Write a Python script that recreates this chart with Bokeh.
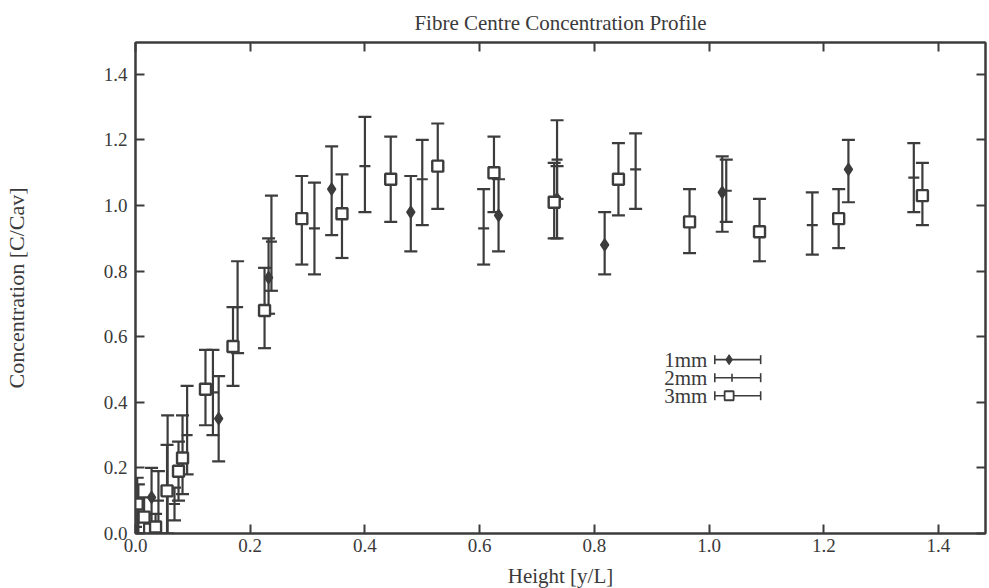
from bokeh.plotting import figure
from bokeh.models import (ColumnDataSource, Whisker, TeeHead, LinearAxis, Range1d,
                          FixedTicker, CustomJSTickFormatter, PrintfTickFormatter)
from bokeh.core.properties import value
from bokeh.embed import file_html
from bokeh.resources import INLINE

# ---------------- data ----------------
x_1mm  = [0.000, 0.028, 0.056, 0.145, 0.232, 0.342, 0.480, 0.633, 0.735, 0.818, 1.023, 1.243]
y_1mm  = [0.00, 0.11, 0.13, 0.35, 0.78, 1.05, 0.98, 0.97, 1.02, 0.88, 1.04, 1.11]
lo_1mm = [0.00, 0.03, 0.00, 0.22, 0.67, 0.91, 0.86, 0.86, 0.90, 0.79, 0.92, 1.01]
hi_1mm = [0.02, 0.20, 0.36, 0.48, 0.90, 1.18, 1.09, 1.08, 1.12, 0.98, 1.15, 1.20]

x_2mm  = [0.005, 0.040, 0.068, 0.090, 0.135, 0.178, 0.237, 0.312, 0.400, 0.500, 0.607, 0.735, 0.872, 1.030, 1.180, 1.357]
y_2mm  = [0.05, 0.10, 0.09, 0.30, 0.43, 0.69, 0.89, 0.93, 1.12, 1.08, 0.93, 1.14, 1.11, 1.045, 0.94, 1.085]
lo_2mm = [0.00, 0.00, 0.04, 0.18, 0.30, 0.55, 0.74, 0.79, 0.98, 0.94, 0.82, 1.02, 0.99, 0.95, 0.85, 0.98]
hi_2mm = [0.15, 0.19, 0.14, 0.45, 0.56, 0.83, 1.03, 1.07, 1.27, 1.20, 1.05, 1.26, 1.22, 1.14, 1.04, 1.19]

x_3mm  = [0.003, 0.015, 0.035, 0.055, 0.075, 0.082, 0.122, 0.170, 0.225, 0.290, 0.360, 0.445, 0.527,
          0.625, 0.730, 0.842, 0.966, 1.088, 1.226, 1.372]
y_3mm  = [0.09, 0.05, 0.02, 0.13, 0.19, 0.23, 0.44, 0.57, 0.68, 0.96, 0.975, 1.08, 1.12,
          1.10, 1.01, 1.08, 0.95, 0.92, 0.96, 1.03]
lo_3mm = [0.00, 0.00, 0.00, 0.00, 0.10, 0.12, 0.33, 0.45, 0.565, 0.82, 0.84, 0.95, 0.99,
          0.98, 0.90, 0.97, 0.855, 0.83, 0.87, 0.94]
hi_3mm = [0.17, 0.11, 0.06, 0.27, 0.28, 0.36, 0.56, 0.69, 0.81, 1.09, 1.095, 1.21, 1.25,
          1.21, 1.13, 1.19, 1.05, 1.02, 1.05, 1.13]

x_ticks = [0.0, 0.2, 0.4, 0.6, 0.8, 1.0, 1.2, 1.4]
y_ticks = [0.0, 0.2, 0.4, 0.6, 0.8, 1.0, 1.2, 1.4]

legend_labels = ["1mm", "2mm", "3mm"]
legend_y = [0.53, 0.475, 0.42]

# ---------------- style ----------------
INK = "#3c3c3c"
TXT = "#3a3a3a"
FONT = "Liberation Serif"

p = figure(width=989, height=588, output_backend="svg", toolbar_location=None,
           x_range=Range1d(0, 1.482), y_range=Range1d(0, 1.497),
           frame_width=850, frame_height=491,
           min_border_left=135, min_border_right=4, min_border_top=41, min_border_bottom=56,
           x_axis_location=None, y_axis_location=None,
           title="Fibre Centre Concentration Profile")
p.title.align = "center"
p.title.text_font = FONT
p.title.text_font_size = "21px"
p.title.text_font_style = "normal"
p.title.text_color = TXT
p.title.standoff = 16
p.title.offset = 0
p.grid.visible = False
p.outline_line_color = INK
p.outline_line_width = 2
p.background_fill_color = "white"
p.border_fill_color = "white"


def style_axis(ax, ticks, labels=True):
    ax.ticker = FixedTicker(ticks=ticks)
    ax.major_tick_in = 9
    ax.major_tick_out = 0
    ax.minor_tick_line_color = None
    ax.major_tick_line_color = INK
    ax.major_tick_line_width = 2
    ax.axis_line_color = INK
    ax.axis_line_width = 2
    ax.major_label_text_font = FONT
    ax.major_label_text_font_size = "19px"
    ax.major_label_text_color = TXT
    ax.axis_label_text_font = FONT
    ax.axis_label_text_font_style = "normal"
    ax.axis_label_text_color = TXT
    if labels:
        ax.formatter = PrintfTickFormatter(format="%.1f")
    else:
        ax.formatter = CustomJSTickFormatter(code="return ''")
        ax.major_label_standoff = 0


xb = LinearAxis(axis_label="Height [y/L]")
style_axis(xb, x_ticks)
xb.axis_label_text_font_size = "21px"
xb.major_label_standoff = 5
xb.axis_label_standoff = 9
p.add_layout(xb, "below")

yl = LinearAxis(axis_label="Concentration [C/Cav]")
style_axis(yl, y_ticks)
yl.axis_label_text_font_size = "22px"
yl.major_label_standoff = 8
yl.axis_label_standoff = 72
p.add_layout(yl, "left")

xt = LinearAxis()
style_axis(xt, x_ticks, labels=False)
p.add_layout(xt, "above")

yr = LinearAxis()
style_axis(yr, y_ticks, labels=False)
p.add_layout(yr, "right")


def series(xs, ys, lo, hi, kind):
    src = ColumnDataSource(dict(x=xs, y=ys, lo=lo, hi=hi))
    w = Whisker(base="x", lower="lo", upper="hi", source=src, dimension="height",
                line_color=INK, line_width=2.2,
                upper_head=TeeHead(size=13, line_color=INK, line_width=2.2),
                lower_head=TeeHead(size=13, line_color=INK, line_width=2.2))
    p.add_layout(w)
    if kind == "1mm":
        p.scatter("x", "y", source=src, marker="diamond", size=12,
                  fill_color=INK, line_color=INK, line_width=1.5)
    elif kind == "2mm":
        p.scatter("x", "y", source=src, marker="dash", size=11,
                  line_color=INK, line_width=2.2)
    else:
        p.scatter("x", "y", source=src, marker="square", size=11,
                  fill_color="white", line_color=INK, line_width=2.4)


series(x_1mm, y_1mm, lo_1mm, hi_1mm, "1mm")
series(x_2mm, y_2mm, lo_2mm, hi_2mm, "2mm")
series(x_3mm, y_3mm, lo_3mm, hi_3mm, "3mm")

# ---------------- legend (label, then a horizontal error-bar sample) ----------------
lx_text = [0.997, 0.997, 0.997]
lx_lo = [1.01, 1.01, 1.01]
lx_hi = [1.09, 1.09, 1.09]
lx_mark = [1.035, 1.04, 1.035]
lsrc = ColumnDataSource(dict(t=legend_labels, y=legend_y, xt=lx_text, lo=lx_lo, hi=lx_hi, xm=lx_mark))
p.text(x="xt", y="y", text="t", source=lsrc, text_font=value(FONT), text_font_size="21px",
       text_color=TXT, text_align="right", text_baseline="middle")
lw = Whisker(base="y", lower="lo", upper="hi", source=lsrc, dimension="width",
             line_color=INK, line_width=1.6,
             upper_head=TeeHead(size=9, line_color=INK, line_width=1.6),
             lower_head=TeeHead(size=9, line_color=INK, line_width=1.6))
p.add_layout(lw)
m1 = ColumnDataSource(dict(x=[lx_mark[0]], y=[legend_y[0]]))
m2 = ColumnDataSource(dict(x=[lx_mark[1]], y=[legend_y[1]]))
m3 = ColumnDataSource(dict(x=[lx_mark[2]], y=[legend_y[2]]))
p.scatter("x", "y", source=m1, marker="diamond", size=10, fill_color=INK, line_color=INK)
p.scatter("x", "y", source=m2, marker="dash", size=8, angle=1.5708, line_color=INK, line_width=1.6)
p.scatter("x", "y", source=m3, marker="square", size=9, fill_color="white", line_color=INK, line_width=1.8)

open("out.html", "w").write(file_html(p, INLINE))
